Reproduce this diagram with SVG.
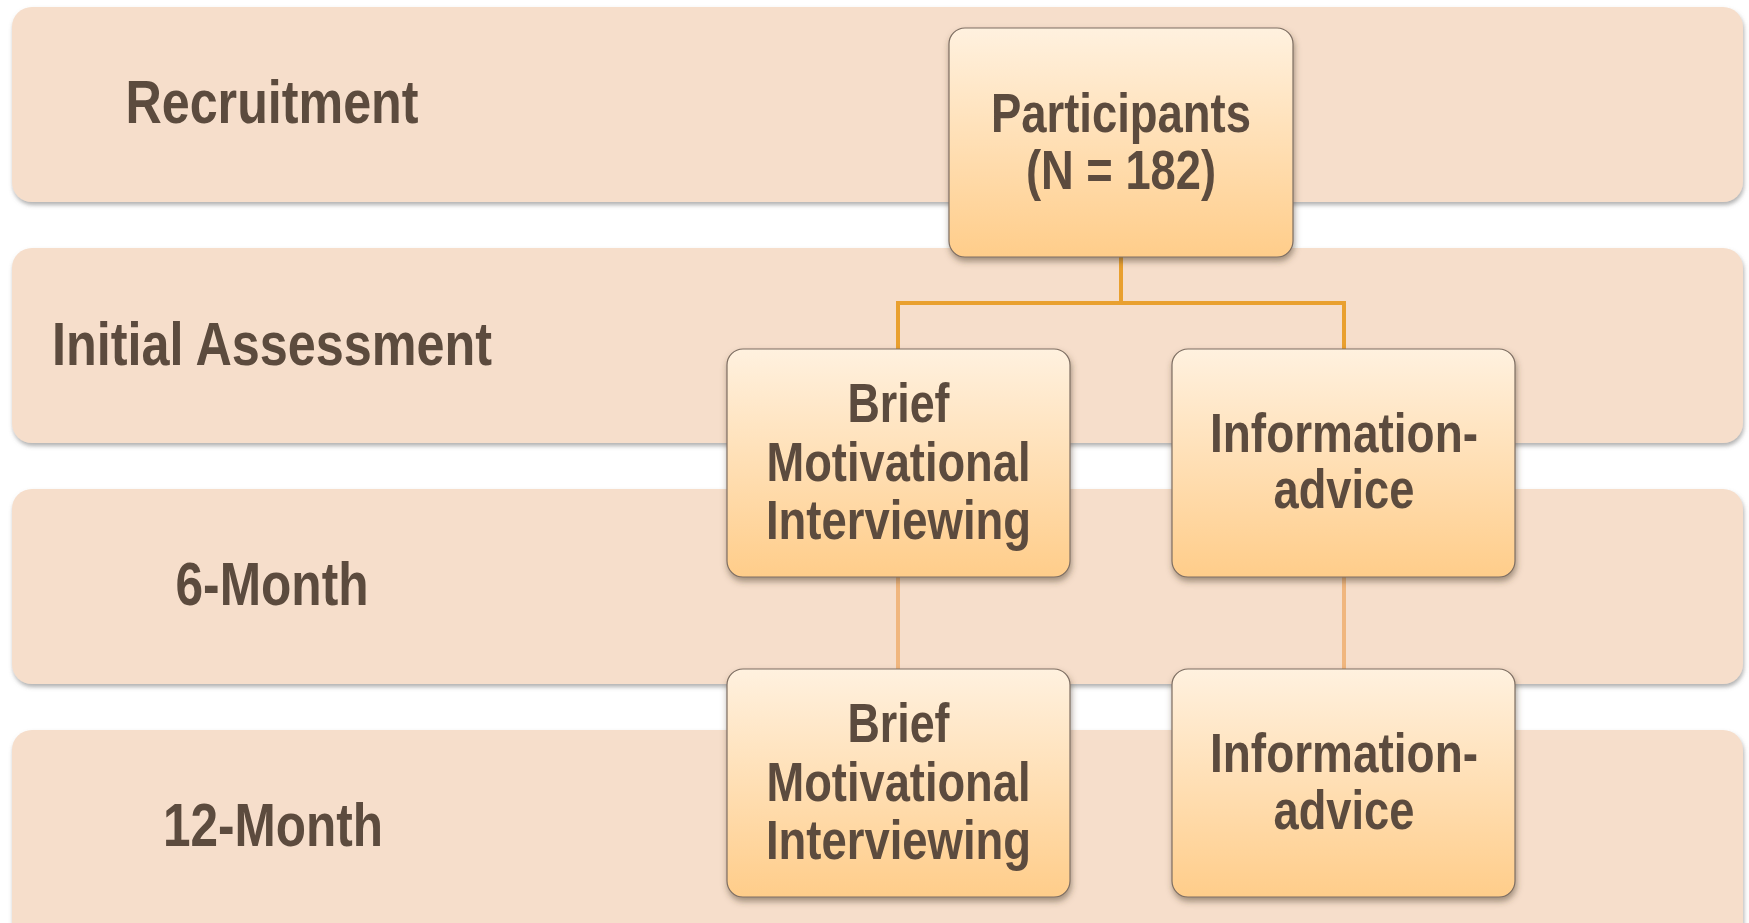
<svg xmlns="http://www.w3.org/2000/svg" width="1749" height="923" viewBox="0 0 1749 923">
<style>
.band{fill:#F6DECB;filter:url(#bsh)}
.node{fill:url(#ng);stroke:#7E6E62;stroke-width:1.2;filter:url(#nsh)}
.lbl{font-family:"Liberation Sans Narrow","Liberation Sans",Arial,sans-serif;font-weight:bold;fill:#5C4B3E;text-anchor:middle}
.bl{font-size:61px}
.nl{font-size:55px}
.c1{stroke:#E9A02F;stroke-width:4;fill:none}
.c2{stroke:#F0B67E;stroke-width:4;fill:none}
</style>
<defs>
<linearGradient id="ng" x1="0" y1="0" x2="0" y2="1">
<stop offset="0" stop-color="#FFF1DF"/>
<stop offset="1" stop-color="#FFCD8A"/>
</linearGradient>
<filter id="bsh" x="-5%" y="-10%" width="110%" height="125%">
<feDropShadow dx="1" dy="3" stdDeviation="2" flood-color="#6F6F6F" flood-opacity="0.55"/>
</filter>
<filter id="nsh" x="-10%" y="-10%" width="120%" height="125%">
<feDropShadow dx="1" dy="4" stdDeviation="3" flood-color="#4A3A2A" flood-opacity="0.5"/>
</filter>
</defs>
<rect width="1749" height="923" fill="#FFFFFF"/>
<g id="band-recruitment">
<rect class="band" x="12" y="7" width="1731" height="195" rx="20"/>
<text class="lbl bl" x="272" y="123" textLength="293" lengthAdjust="spacingAndGlyphs">Recruitment</text>
</g>
<g id="band-initial">
<rect class="band" x="12" y="248" width="1731" height="195" rx="20"/>
<text class="lbl bl" x="272" y="365" textLength="440" lengthAdjust="spacingAndGlyphs">Initial Assessment</text>
</g>
<g id="band-6month">
<rect class="band" x="12" y="489" width="1731" height="195" rx="20"/>
<text class="lbl bl" x="272" y="605" textLength="193" lengthAdjust="spacingAndGlyphs">6-Month</text>
</g>
<g id="band-12month">
<rect class="band" x="12" y="730" width="1731" height="215" rx="20"/>
<text class="lbl bl" x="273" y="846" textLength="220" lengthAdjust="spacingAndGlyphs">12-Month</text>
</g>
<g id="connectors">
<path class="c1" d="M1121 257 V303 M898 349 V303 H1344 V349"/>
<path class="c2" d="M898 577 V669 M1344 577 V669"/>
</g>
<g id="node-participants">
<rect class="node" x="949" y="28" width="344" height="229" rx="16"/>
<text class="lbl nl" x="1121" y="132" textLength="260" lengthAdjust="spacingAndGlyphs">Participants</text>
<text class="lbl nl" x="1121" y="189" textLength="190" lengthAdjust="spacingAndGlyphs">(N = 182)</text>
</g>
<g id="node-bmi-initial">
<rect class="node" x="727" y="349" width="343" height="228" rx="16"/>
<text class="lbl nl" x="898.5" y="422" textLength="102" lengthAdjust="spacingAndGlyphs">Brief</text>
<text class="lbl nl" x="898.5" y="481" textLength="264" lengthAdjust="spacingAndGlyphs">Motivational</text>
<text class="lbl nl" x="898.5" y="539" textLength="265" lengthAdjust="spacingAndGlyphs">Interviewing</text>
</g>
<g id="node-info-initial">
<rect class="node" x="1172" y="349" width="343" height="228" rx="16"/>
<text class="lbl nl" x="1344" y="452" textLength="268" lengthAdjust="spacingAndGlyphs">Information-</text>
<text class="lbl nl" x="1344" y="508" textLength="141" lengthAdjust="spacingAndGlyphs">advice</text>
</g>
<g id="node-bmi-12">
<rect class="node" x="727" y="669" width="343" height="228" rx="16"/>
<text class="lbl nl" x="898.5" y="742" textLength="102" lengthAdjust="spacingAndGlyphs">Brief</text>
<text class="lbl nl" x="898.5" y="801" textLength="264" lengthAdjust="spacingAndGlyphs">Motivational</text>
<text class="lbl nl" x="898.5" y="859" textLength="265" lengthAdjust="spacingAndGlyphs">Interviewing</text>
</g>
<g id="node-info-12">
<rect class="node" x="1172" y="669" width="343" height="228" rx="16"/>
<text class="lbl nl" x="1344" y="772" textLength="268" lengthAdjust="spacingAndGlyphs">Information-</text>
<text class="lbl nl" x="1344" y="829" textLength="141" lengthAdjust="spacingAndGlyphs">advice</text>
</g>
</svg>
